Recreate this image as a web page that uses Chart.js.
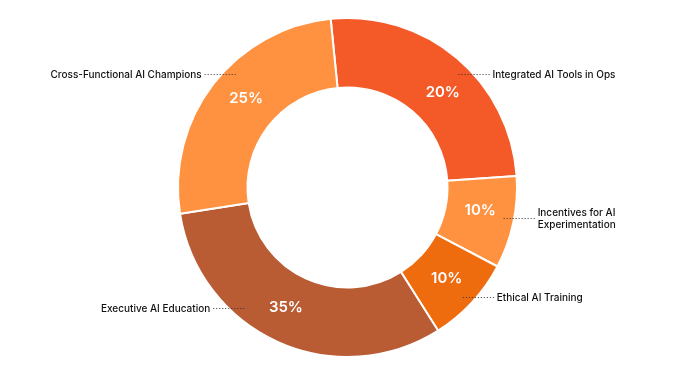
<!DOCTYPE html>
<html>
<head>
<meta charset="utf-8">
<script src="https://cdn.jsdelivr.net/npm/chart.js@4"></script>
<style>
  html, body { margin: 0; padding: 0; background: #fff; }
  #wrap { width: 695px; height: 375px; }
</style>
</head>
<body>
<div id="wrap"><canvas id="initiatives"></canvas></div>
<script>
// slices, clockwise from the top
const categories = ['Integrated AI Tools in Ops', 'Incentives for AI\nExperimentation', 'Ethical AI Training', 'Executive AI Education', 'Cross-Functional AI Champions'];
// arc sizes as drawn in the picture
const sliceShares = [25.5, 8.8, 8.3, 31.5, 25.9];
// percentages printed on the slices
const pctLabels = ['20%', '10%', '10%', '35%', '25%'];
const sliceColors = ['#f45a28', '#ff9240', '#ee6b0e', '#b95b33', '#ff9240'];

// draws the white % text and the dotted leader lines with category names
const calloutPlugin = {
    id: 'callouts',
    afterDatasetsDraw(chart, args, opts) {
        const ctx = chart.ctx;
        const meta = chart.getDatasetMeta(0);
        ctx.save();
        meta.data.forEach(function(arc, i) {
            // percent inside slice
            const pa = opts.pctAngles[i] * Math.PI / 180;
            const pr = (arc.innerRadius + arc.outerRadius) / 2;
            ctx.fillStyle = '#fff';
            ctx.font = '600 15px Inter';
            ctx.textAlign = 'center';
            ctx.textBaseline = 'middle';
            ctx.fillText(pctLabels[i], arc.x + pr * Math.sin(pa), arc.y - pr * Math.cos(pa));

            // leader line
            const a = opts.angles[i] * Math.PI / 180;
            const x0 = arc.x + opts.radius * Math.sin(a);
            const y0 = Math.round(arc.y - opts.radius * Math.cos(a)) + 0.5;
            const right = Math.sin(a) > 0;
            const x1 = right ? x0 + opts.length : x0 - opts.length;
            ctx.strokeStyle = '#333';
            ctx.lineWidth = 1;
            ctx.setLineDash([1, 2]);
            ctx.beginPath();
            ctx.moveTo(x0, y0);
            ctx.lineTo(x1, y0);
            ctx.stroke();
            ctx.setLineDash([]);

            // category text
            const lines = categories[i].split('\n');
            ctx.fillStyle = '#111';
            ctx.font = '500 10px Inter';
            ctx.textAlign = right ? 'left' : 'right';
            const tx = right ? x1 + opts.gap : x1 - opts.gap;
            const top = y0 - (lines.length - 1) * opts.lineHeight / 2;
            lines.forEach(function(t, k) {
                ctx.fillText(t, tx, top + k * opts.lineHeight);
            });
        });
        ctx.restore();
    }
};

new Chart(document.getElementById('initiatives'), {
    type: 'doughnut',
    data: {
        labels: categories,
        datasets: [{
            data: sliceShares,
            backgroundColor: sliceColors,
            borderColor: '#fff',
            borderWidth: 2,
            hoverOffset: 0
        }]
    },
    options: {
        responsive: true,
        maintainAspectRatio: false,
        animation: false,
        rotation: -5.7,
        cutout: '59%',
        layout: { padding: { top: 17, bottom: 17 } },
        plugins: {
            legend: { display: false },
            tooltip: { enabled: false },
            callouts: {
                pctAngles: [45, 100, 132.6, 207.2, 311.2],
                angles: [44.3, 100.9, 133.5, 220.5, 315.3],
                radius: 159,
                length: 31,
                gap: 3,
                lineHeight: 12
            }
        }
    },
    plugins: [calloutPlugin]
});
</script>
</body>
</html>
